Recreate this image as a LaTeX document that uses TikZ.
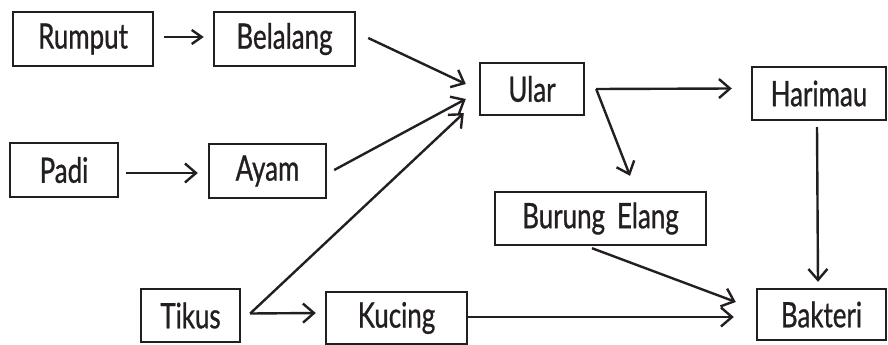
\documentclass[tikz,border=0pt]{standalone}
\usepackage{fontspec}
\newfontfamily\lbl{Lato}[FakeStretch=0.74,FakeBold=0.8]
\usetikzlibrary{arrows.meta,calc}
\definecolor{ink}{HTML}{231F20}
\tikzset{
  box/.style={draw=ink, line width=2.4pt, inner sep=0pt, anchor=center,
    font=\lbl\fontsize{35}{40}\selectfont, text=ink},
  arr/.style={draw=ink, line width=2.4pt, -{Straight Barb[length=11pt,width=19pt,line width=2.4pt]}},
}
\begin{document}
\begin{tikzpicture}[x=1pt,y=-1pt]
\useasboundingbox (0,0) rectangle (888,345);
\node[box, minimum width=140pt, minimum height=54pt] (rumput) at (83,39) {Rumput};
\node[box, minimum width=141pt, minimum height=54pt] (belalang) at (284.5,39) {Belalang};
\node[box, minimum width=104pt, minimum height=52pt] (ular) at (532,89) {Ular};
\node[box, minimum width=134pt, minimum height=53pt] (harimau) at (819,93.5) {Harimau};
\node[box, minimum width=108pt, minimum height=54pt] (padi) at (64,170) {Padi};
\node[box, minimum width=117pt, minimum height=54pt] (ayam) at (267.5,171) {Ayam};
\node[box, minimum width=211pt, minimum height=53pt] (burung) at (600.5,218.5) {Burung\hspace{12pt}Elang};
\node[box, minimum width=99pt, minimum height=53pt] (tikus) at (190.5,315.5) {Tikus};
\node[box, minimum width=141pt, minimum height=52pt] (kucing) at (396.5,318) {Kucing};
\node[box, minimum width=129pt, minimum height=51pt] (bakteri) at (821.5,314.5) {Bakteri};

\coordinate (t0) at ($(tikus.east)+(9,-2)$);
\coordinate (u0) at ($(ular.east)+(11,0)$);

\draw[arr, -{Straight Barb[length=10pt,width=14pt,line width=2.4pt]}] ($(rumput.east)+(10,-2)$) -- ($(belalang.west)+(-9,-2)$);
\draw[arr] ($(belalang.east)+(12,-1)$) -- ($(ular.west)+(-13,-5)$);
\draw[arr] ($(padi.east)+(7,3)$) -- ($(ayam.west)+(-10,2)$);
\draw[arr] ($(ayam.east)+(7,-1)$) -- ($(ular.west)+(-13,10)$);
\draw[arr] (t0) -- ($(ular.west)+(-15,24)$);
\draw[arr] (t0) -- ($(kucing.west)+(-9,-5)$);
\draw[arr] (u0) -- ($(harimau.west)+(-19,-5)$);
\draw[arr] (u0) -- ($(burung.north)+(29.5,-15)$);
\draw[arr] ($(harimau.south)+(-2,6)$) -- ($(bakteri.north)+(-3.5,-6)$);
\draw[arr] ($(burung.south)+(-8.5,2)$) -- ($(bakteri.west)+(-20,-12.5)$);
\draw[arr] ($(kucing.east)+(0,-1)$) -- ($(bakteri.west)+(-22,2.5)$);
\end{tikzpicture}
\end{document}
